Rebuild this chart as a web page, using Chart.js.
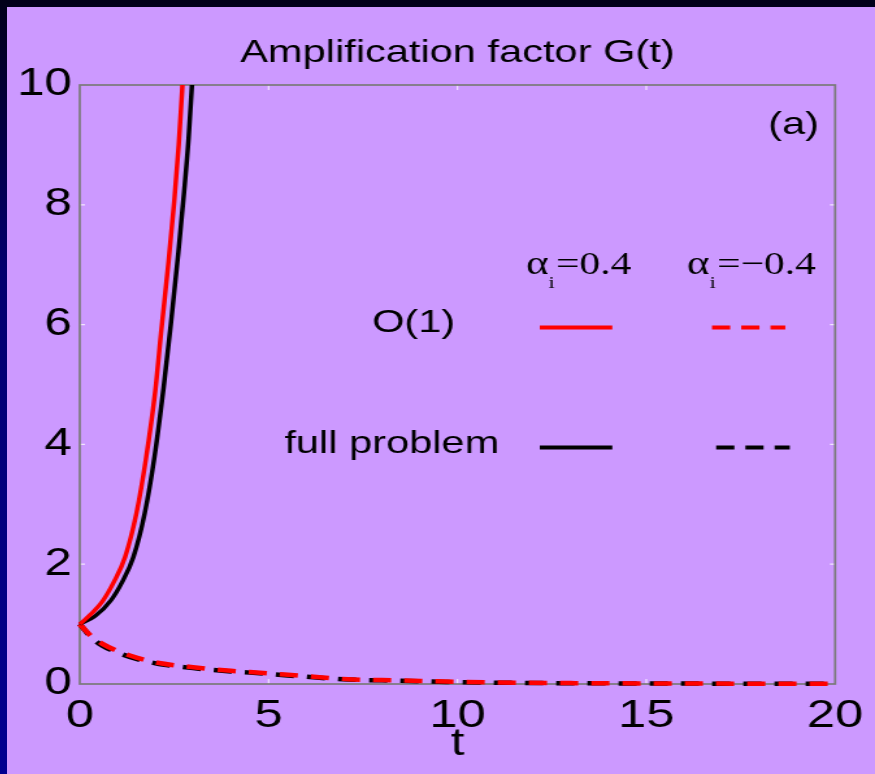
<!DOCTYPE html>
<html>
<head>
<meta charset="utf-8">
<title>Amplification factor G(t)</title>
<script src="https://cdn.jsdelivr.net/npm/chart.js@4.4.1/dist/chart.umd.min.js"></script>
<style>
html, body { margin: 0; padding: 0; }
body {
    width: 875px; height: 774px; overflow: hidden; position: relative;
    background: linear-gradient(to bottom, #000018 0%, #00006e 35%, #000090 100%);
}
#wrap { position: absolute; left: 7px; top: 7px; width: 868px; height: 767px; background: #cc99ff; overflow: hidden; }
/* the original figure is stretched sideways, so the canvas is too */
#myChart { position: absolute; left: 0; top: 0; transform: scaleX(1.2994); transform-origin: 0 0; }
</style>
</head>
<body>
<div id="wrap"><canvas id="myChart" width="668" height="767"></canvas></div>
<script>
// values
var tO1Pos = [0, 0.3, 0.6, 0.9, 1.2, 1.5, 1.75, 2.0, 2.15, 2.35, 2.5, 2.62, 2.71, 2.8];
var gO1Pos = [1, 1.17, 1.38, 1.7, 2.12, 2.85, 3.75, 4.9, 5.85, 7.05, 8.05, 9.0, 9.9, 11];

var tFullPos = [0, 0.4, 0.83, 1.12, 1.42, 1.72, 1.98, 2.22, 2.41, 2.61, 2.76, 2.88, 2.97, 3.05];
var gFullPos = [1, 1.13, 1.4, 1.7, 2.12, 2.85, 3.8, 4.95, 6.0, 7.2, 8.2, 9.1, 10, 10.8];

var tNeg = [0, 0.3, 0.6, 1, 1.5, 2.1, 3, 4, 4.5, 6, 7.1, 8.5, 9.7, 11, 13, 15, 17.5, 20];
var gO1Neg = [1, 0.8, 0.67, 0.55, 0.44, 0.35, 0.28, 0.22, 0.2, 0.13, 0.08, 0.06, 0.04, 0.025, 0.015, 0.01, 0.006, 0.004];
var gFullNeg = [1, 0.78, 0.64, 0.525, 0.42, 0.335, 0.265, 0.21, 0.19, 0.12, 0.075, 0.055, 0.035, 0.022, 0.013, 0.009, 0.005, 0.003];

var xTicks = [0, 5, 10, 15, 20];
var yTicks = [0, 2, 4, 6, 8, 10];

function pts(t, g) {
    var out = [];
    for (let i = 0; i < t.length; i++) {
        out.push({x: t[i], y: g[i]});
    }
    return out;
}

var sans = '"Liberation Sans", Arial, Helvetica, sans-serif';
var serif = '"Liberation Serif", "Times New Roman", serif';

// axes box with small inward ticks, like the matlab figure
var boxPlugin = {
    id: 'box',
    beforeDatasetsDraw: function(chart) {
        var ctx = chart.ctx, a = chart.chartArea;
        var xs = chart.scales.x, ys = chart.scales.y;
        ctx.save();
        ctx.strokeStyle = 'rgba(255,255,255,0.75)';
        ctx.lineWidth = 1.2;
        ctx.beginPath();
        xTicks.forEach(function(v) {
            if (v == xs.min || v == xs.max) return;
            var px = xs.getPixelForValue(v);
            ctx.moveTo(px, a.bottom); ctx.lineTo(px, a.bottom - 5);
            ctx.moveTo(px, a.top); ctx.lineTo(px, a.top + 5);
        });
        yTicks.forEach(function(v) {
            if (v == ys.min || v == ys.max) return;
            var py = ys.getPixelForValue(v);
            ctx.moveTo(a.left, py); ctx.lineTo(a.left + 4, py);
            ctx.moveTo(a.right, py); ctx.lineTo(a.right - 4, py);
        });
        ctx.stroke();
        ctx.strokeStyle = '#7a7a7a';
        ctx.lineWidth = 1.7;
        ctx.strokeRect(a.left, a.top, a.right - a.left, a.bottom - a.top);
        ctx.restore();
    }
};

// legend table drawn inside the axes
var legendPlugin = {
    id: 'legendTable',
    afterDraw: function(chart) {
        var ctx = chart.ctx;
        var xs = chart.scales.x, ys = chart.scales.y;
        var X = function(v) { return xs.getPixelForValue(v); };
        var Y = function(v) { return ys.getPixelForValue(v); };
        ctx.save();
        ctx.fillStyle = '#000';

        function header(tx, gy, rest) {
            var x = X(tx), y = Y(gy);
            ctx.textAlign = 'left';
            ctx.textBaseline = 'alphabetic';
            ctx.font = '33px ' + serif;
            ctx.fillText('\u03b1', x, y);
            x += ctx.measureText('\u03b1').width;
            ctx.font = '17px ' + serif;
            ctx.fillText('i', x, y + 14);
            x += ctx.measureText('i').width + 1;
            ctx.font = '32px ' + serif;
            ctx.fillText(rest, x, y);
        }
        header(11.82, 6.85, '=0.4');
        header(16.08, 6.85, '=\u22120.4');

        ctx.font = '32px ' + sans;
        ctx.textAlign = 'center';
        ctx.textBaseline = 'middle';
        ctx.fillText('O(1)', X(8.84), Y(6.03));
        ctx.fillText('full problem', X(8.26), Y(4.0));
        ctx.fillText('(a)', X(18.9), Y(9.33));

        function sample(t0, t1, g, color, dash) {
            ctx.beginPath();
            ctx.strokeStyle = color;
            ctx.lineWidth = 4;
            ctx.setLineDash(dash);
            ctx.moveTo(X(t0), Y(g));
            ctx.lineTo(X(t1), Y(g));
            ctx.stroke();
        }
        sample(12.18, 14.1, 5.95, '#ff0000', []);
        sample(16.74, 18.68, 5.95, '#ff0000', [14, 8.5]);
        sample(12.18, 14.1, 3.95, '#000000', []);
        sample(16.85, 18.8, 3.95, '#000000', [14, 8.5]);
        ctx.restore();
    }
};

var ctx = document.getElementById('myChart').getContext('2d');

var myChart = new Chart(ctx, {
    type: 'scatter',
    data: {
        datasets: [{
            label: 'O(1), alpha_i=0.4',
            data: pts(tO1Pos, gO1Pos),
            borderColor: '#ff0000',
            borderWidth: 3.5,
            clip: {left: 5, top: 0, right: 5, bottom: 5}
        }, {
            label: 'full problem, alpha_i=0.4',
            data: pts(tFullPos, gFullPos),
            borderColor: '#000000',
            borderWidth: 3.5,
            clip: {left: 5, top: 0, right: 5, bottom: 5}
        }, {
            label: 'O(1), alpha_i=-0.4',
            data: pts(tNeg, gO1Neg),
            borderColor: '#ff0000',
            borderWidth: 4.5,
            borderDash: [14, 10],
            clip: 6
        }, {
            label: 'full problem, alpha_i=-0.4',
            data: pts(tNeg, gFullNeg),
            borderColor: '#000000',
            borderWidth: 4.5,
            borderDash: [14, 10],
            borderDashOffset: 2,
            clip: 6
        }]
    },
    options: {
        responsive: false,
        animation: false,
        devicePixelRatio: 1,
        showLine: true,
        elements: {
            point: {radius: 0, hoverRadius: 0},
            line: {fill: false, cubicInterpolationMode: 'monotone'}
        },
        layout: {padding: {left: 0, right: 27, top: 0, bottom: 0}},
        plugins: {
            legend: {display: false},
            tooltip: {enabled: false},
            title: {
                display: true,
                text: 'Amplification factor G(t)',
                color: '#000',
                fullSize: false,
                font: {family: sans, size: 32, weight: 'normal'},
                padding: {top: 27, bottom: 12.6}
            }
        },
        scales: {
            x: {
                type: 'linear',
                min: 0,
                max: 20,
                afterBuildTicks: function(scale) {
                    scale.ticks = xTicks.map(function(v) { return {value: v}; });
                },
                afterFit: function(scale) { scale.height = 90; },
                grid: {display: false, drawTicks: false},
                border: {display: false},
                ticks: {color: '#000', padding: 9, maxRotation: 0, font: {family: sans, size: 39}},
                title: {
                    display: true,
                    text: 't',
                    color: '#000',
                    font: {family: sans, size: 38},
                    padding: {top: 0, bottom: 7}
                }
            },
            y: {
                type: 'linear',
                min: 0,
                max: 10,
                afterBuildTicks: function(scale) {
                    scale.ticks = yTicks.map(function(v) { return {value: v}; });
                },
                afterFit: function(scale) { scale.width = 56; },
                grid: {display: false, drawTicks: false},
                border: {display: false},
                ticks: {color: '#000', padding: 6, font: {family: sans, size: 38}}
            }
        }
    },
    plugins: [boxPlugin, legendPlugin]
});
</script>
</body>
</html>
